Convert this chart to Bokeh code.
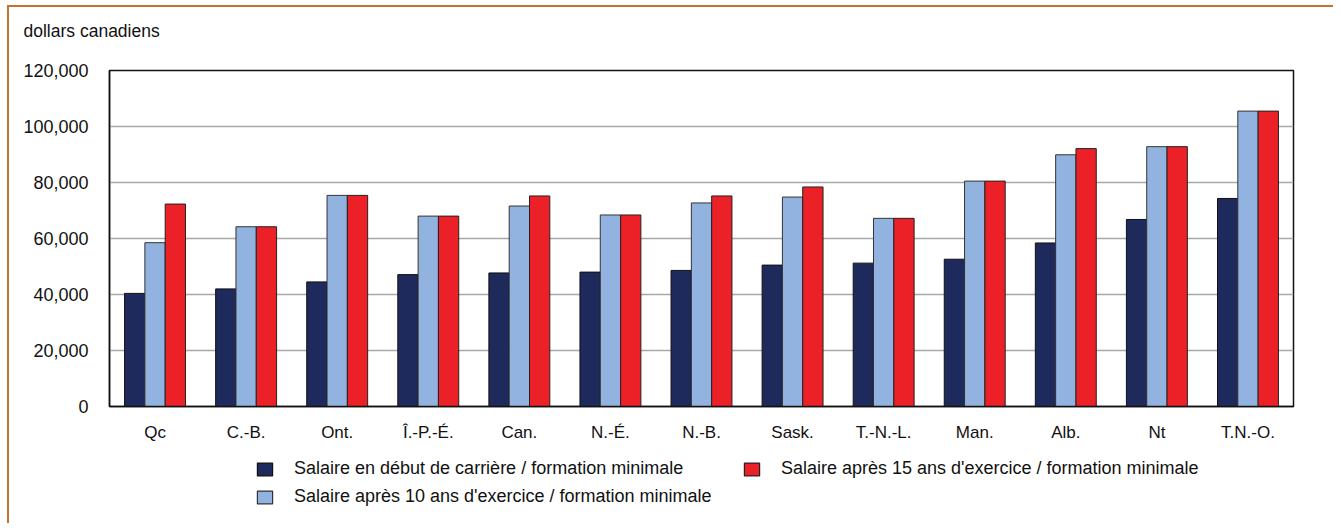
from bokeh.plotting import figure
from bokeh.layouts import column
from bokeh.models import (ColumnDataSource, FactorRange, Range1d, NumeralTickFormatter,
                          Legend, LegendItem, Title, FixedTicker)
from bokeh.transform import dodge
from bokeh.embed import file_html
from bokeh.resources import INLINE

provinces = ["Qc", "C.-B.", "Ont.", "Î.-P.-É.", "Can.", "N.-É.", "N.-B.", "Sask.",
             "T.-N.-L.", "Man.", "Alb.", "Nt", "T.N.-O."]
debut = [40400, 42000, 44500, 47100, 47700, 48000, 48600, 50500, 51200, 52600, 58400, 66800, 74300]
apres10 = [58500, 64200, 75400, 68000, 71600, 68400, 72700, 74800, 67200, 80500, 89900, 92800, 105500]
apres15 = [72300, 64200, 75400, 68000, 75200, 68400, 75200, 78400, 67200, 80500, 92100, 92800, 105500]
y_ticks = [0, 20000, 40000, 60000, 80000, 100000, 120000]

y_title = "dollars canadiens"
series_names = ["Salaire en début de carrière / formation minimale",
                "Salaire après 10 ans d'exercice / formation minimale",
                "Salaire après 15 ans d'exercice / formation minimale"]
colors = ["#1F2A5C", "#92B3DF", "#EC2127"]
outlines = ["#111111", "#333333", "#222222"]

FONT = "Liberation Sans"
FS = "17px"
FS_TICK = "18px"
FS_LEG = "18px"
FRAME = "#C8702F"
W = 1333

src = ColumnDataSource(dict(prov=provinces, debut=debut, apres10=apres10, apres15=apres15))
cols = ["debut", "apres10", "apres15"]
w = 0.223
offs = [-w, 0, w]


def strip(height, **kw):
    f = figure(width=W, height=height, x_range=Range1d(0, 1), y_range=Range1d(0, 1),
               output_backend="svg", toolbar_location=None,
               min_border_left=0, min_border_right=0, **kw)
    f.axis.visible = False
    f.grid.visible = False
    f.outline_line_color = None
    f.border_fill_alpha = 0
    f.background_fill_alpha = 0
    return f


# ---------- top strip: unit title ----------
t = strip(45, min_border_top=40, min_border_bottom=0)
t.styles = {"background": f"linear-gradient({FRAME},{FRAME}) 7px 5px / 2px 100% no-repeat, "
                          f"linear-gradient({FRAME},{FRAME}) 7px 5px / 100% 2px no-repeat, white"}
t.title = Title(text=y_title, align="left", offset=-86, standoff=0, vertical_align="bottom",
                text_font=FONT, text_font_size="17.5px", text_color="#111111",
                text_font_style="normal")

# ---------- main chart ----------
p = figure(width=W, height=400, x_range=FactorRange(factors=provinces, range_padding=0),
           y_range=Range1d(0, 120000), output_backend="svg", toolbar_location=None,
           min_border_left=109, min_border_right=40, min_border_top=25, min_border_bottom=39)
p.border_fill_alpha = 0
p.styles = {"background": f"linear-gradient({FRAME},{FRAME}) 7px 0px / 2px 100% no-repeat, white"}

for c, o, fc, lc in zip(cols, offs, colors, outlines):
    p.vbar(x=dodge("prov", o, range=p.x_range), top=c, width=w, source=src,
           fill_color=fc, line_color=lc, line_width=1)

p.outline_line_color = "#111111"
p.outline_line_width = 1.5
p.xgrid.grid_line_color = None
p.ygrid.grid_line_color = "#A8A8A8"
p.ygrid.grid_line_width = 1.5
p.ygrid.ticker = FixedTicker(ticks=y_ticks)

p.yaxis.ticker = FixedTicker(ticks=y_ticks)
p.yaxis.formatter = NumeralTickFormatter(format="0,0")
for ax in (p.xaxis[0], p.yaxis[0]):
    ax.major_tick_in = 0
    ax.major_tick_out = 0
    ax.minor_tick_in = 0
    ax.minor_tick_out = 0
    ax.axis_line_color = "#111111"
    ax.axis_line_width = 1.5
    ax.major_label_text_font = FONT
    ax.major_label_text_color = "#111111"
p.yaxis.major_label_text_font_size = FS_TICK
p.xaxis.major_label_text_font_size = FS
p.yaxis.major_label_standoff = 21
p.xaxis.major_label_standoff = 16

# ---------- legend strip (same series as hidden renderers; only the legend shows) ----------
q = figure(width=W, height=78, x_range=FactorRange(factors=provinces, range_padding=0),
           y_range=Range1d(0, 120000), output_backend="svg", toolbar_location=None,
           min_border_left=0, min_border_right=0, min_border_top=0, min_border_bottom=0)
q.axis.visible = False
q.grid.visible = False
q.outline_line_color = None
q.border_fill_alpha = 0
q.background_fill_alpha = 0
q.styles = {"background": f"linear-gradient({FRAME},{FRAME}) 7px 0px / 2px 100% no-repeat, white"}

leg_r = []
for c, o, fc, lc in zip(cols, offs, colors, outlines):
    leg_r.append(q.vbar(x=dodge("prov", o, range=q.x_range), top=c, width=w, source=src,
                        fill_color=fc, line_color=lc, line_width=1.2, visible=False))


def mk_legend(items, loc):
    return Legend(items=items, location=loc, orientation="vertical", click_policy="none",
                  label_text_font=FONT, label_text_font_size=FS_LEG, label_text_color="#111111",
                  glyph_width=19, glyph_height=16, label_standoff=20, spacing=7,
                  padding=0, margin=0, border_line_color=None, background_fill_alpha=0,
                  label_height=20, inactive_fill_alpha=0)


lg1 = mk_legend([LegendItem(label=series_names[0], renderers=[leg_r[0]]),
                 LegendItem(label=series_names[1], renderers=[leg_r[1]])], (146, 16))
lg2 = mk_legend([LegendItem(label=series_names[2], renderers=[leg_r[2]])], (633, 44))
q.add_layout(lg1)
q.add_layout(lg2)

layout = column(t, p, q, spacing=0)
open("out.html", "w").write(file_html(layout, INLINE))
